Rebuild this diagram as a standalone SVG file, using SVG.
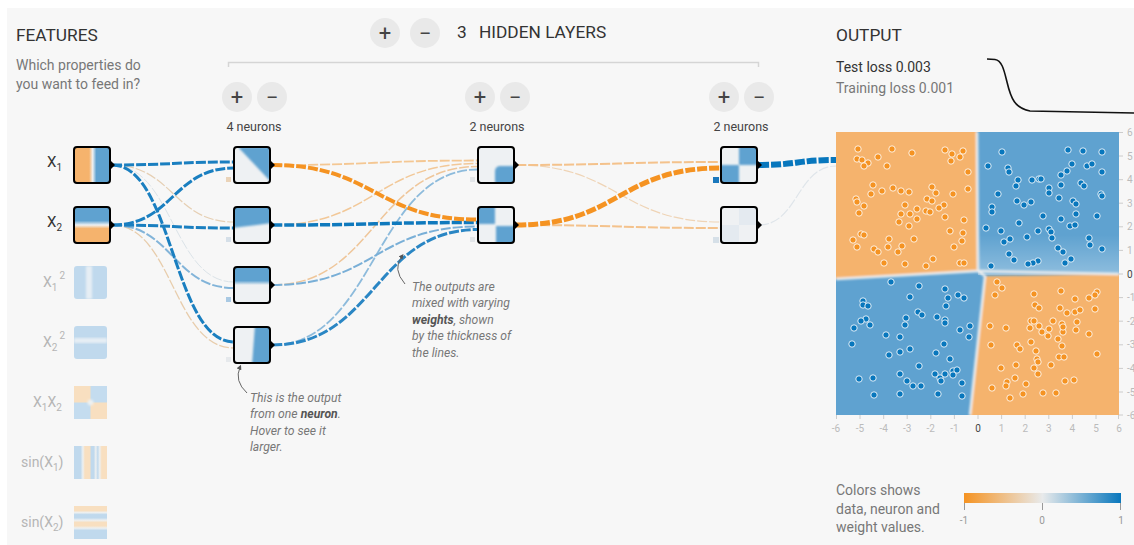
<svg xmlns="http://www.w3.org/2000/svg" width="1134" height="545" viewBox="0 0 1134 545">
<style>
text{font-family:Roboto,"Liberation Sans",sans-serif}
.h{font-size:17.3px;fill:#333}
.sub{font-size:14px;fill:#777}
.btn{fill:#e9e9e9}
.bt{font-size:22px;fill:#444;text-anchor:middle}
.nl{font-size:12.5px;fill:#444;text-anchor:middle}
.node{fill:none;stroke:#000;stroke-width:2}
.tri{fill:#000}
.lk{fill:none;stroke-dasharray:10 2}
.il{font-size:15px;fill:#333}
.gl{font-size:14px;fill:#b5b5b5}
.ann{font-size:12.2px;fill:#777;font-style:italic}
.ax{font-size:10px;fill:#bbb}
.ay{font-size:10px;fill:#bbb}
.tk{stroke:#ccc;stroke-width:1}
.pb{fill:#5fa2d0}
.po{fill:#f5b36d}
.lt{fill:#eef1f3}
</style>
<defs>
<circle id="o" r="3.2" fill="#f59322" stroke="#fff" stroke-opacity="0.85" stroke-width="1"/>
<circle id="b" r="3.2" fill="#0877bd" stroke="#fff" stroke-opacity="0.85" stroke-width="1"/>
<filter id="sb" x="-20%" y="-20%" width="140%" height="140%"><feGaussianBlur stdDeviation="0.8"/></filter>
<filter id="hb" x="-5%" y="-5%" width="110%" height="110%"><feGaussianBlur stdDeviation="1.3"/></filter>
<clipPath id="pc"><rect x="836" y="132" width="283" height="283"/></clipPath>
<linearGradient id="gx1" x1="0" y1="0" x2="1" y2="0"><stop offset="0" stop-color="#f5b36d"/><stop offset="0.42" stop-color="#f5b36d"/><stop offset="0.52" stop-color="#eef1f3"/><stop offset="0.62" stop-color="#5fa2d0"/><stop offset="1" stop-color="#5fa2d0"/></linearGradient>
<linearGradient id="gx2" x1="0" y1="0" x2="0" y2="1"><stop offset="0" stop-color="#5fa2d0"/><stop offset="0.38" stop-color="#5fa2d0"/><stop offset="0.5" stop-color="#eef1f3"/><stop offset="0.6" stop-color="#f5b36d"/><stop offset="1" stop-color="#f5b36d"/></linearGradient>
<linearGradient id="gh3" x1="0" y1="0" x2="0" y2="1"><stop offset="0" stop-color="#5fa2d0"/><stop offset="0.38" stop-color="#5fa2d0"/><stop offset="0.5" stop-color="#eef1f3"/><stop offset="1" stop-color="#eef1f3"/></linearGradient>
<linearGradient id="gs1" x1="0" y1="0" x2="1" y2="0"><stop offset="0" stop-color="#c0d9ed"/><stop offset="0.2" stop-color="#c0d9ed"/><stop offset="0.27" stop-color="#edf0f1"/><stop offset="0.33" stop-color="#f8dfc0"/><stop offset="0.47" stop-color="#f8dfc0"/><stop offset="0.53" stop-color="#c0d9ed"/><stop offset="0.6" stop-color="#c0d9ed"/><stop offset="0.66" stop-color="#edf0f1"/><stop offset="0.72" stop-color="#c0d9ed"/><stop offset="0.78" stop-color="#edf0f1"/><stop offset="0.84" stop-color="#f8dfc0"/><stop offset="1" stop-color="#f8dfc0"/></linearGradient>
<linearGradient id="gs2" x1="0" y1="0" x2="0" y2="1"><stop offset="0" stop-color="#f8dfc0"/><stop offset="0.14" stop-color="#f8dfc0"/><stop offset="0.2" stop-color="#edf0f1"/><stop offset="0.26" stop-color="#c0d9ed"/><stop offset="0.36" stop-color="#c0d9ed"/><stop offset="0.43" stop-color="#edf0f1"/><stop offset="0.5" stop-color="#f8dfc0"/><stop offset="0.6" stop-color="#f8dfc0"/><stop offset="0.67" stop-color="#edf0f1"/><stop offset="0.74" stop-color="#c0d9ed"/><stop offset="1" stop-color="#c0d9ed"/></linearGradient>
<linearGradient id="leg" x1="0" y1="0" x2="1" y2="0"><stop offset="0" stop-color="#f59322"/><stop offset="0.5" stop-color="#e8eaeb"/><stop offset="1" stop-color="#0877bd"/></linearGradient>
<linearGradient id="tr" x1="0" y1="0" x2="0" y2="1"><stop offset="0" stop-color="#fff" stop-opacity="0"/><stop offset="1" stop-color="#fff" stop-opacity="0.3"/></linearGradient>
<marker id="ar" viewBox="0 0 10 10" refX="5" refY="5" markerWidth="5" markerHeight="5" orient="auto-start-reverse"><path d="M0,0 L10,5 L0,10 z" fill="#555"/></marker>
</defs>

<rect x="0" y="0" width="1134" height="545" fill="#fff"/>
<rect x="7" y="8" width="1127" height="537" fill="#f7f7f7"/>

<!-- headers -->
<g id="features-header">
<text x="16" y="41" class="h">FEATURES</text>
<text x="16" y="70" class="sub">Which properties do</text>
<text x="16" y="89" class="sub">you want to feed in?</text>
</g>
<g id="layers-header">
<circle cx="385" cy="33" r="15" class="btn"/><text x="385" y="41" class="bt">+</text>
<circle cx="425" cy="33" r="15" class="btn"/><text x="425" y="41" class="bt">−</text>
<text x="457" y="38" class="h">3</text>
<text x="479" y="38" class="h">HIDDEN LAYERS</text>
<path d="M228.5,67 V62.5 H758.5 V67" fill="none" stroke="#d5d5d5" stroke-width="1.5"/>
<circle cx="237" cy="97" r="15" class="btn"/><text x="237" y="105" class="bt">+</text>
<circle cx="272" cy="97" r="15" class="btn"/><text x="272" y="105" class="bt">−</text>
<text x="254" y="131" class="nl">4 neurons</text>
<circle cx="480" cy="97" r="15" class="btn"/><text x="480" y="105" class="bt">+</text>
<circle cx="515" cy="97" r="15" class="btn"/><text x="515" y="105" class="bt">−</text>
<text x="497" y="131" class="nl">2 neurons</text>
<circle cx="724" cy="97" r="15" class="btn"/><text x="724" y="105" class="bt">+</text>
<circle cx="759" cy="97" r="15" class="btn"/><text x="759" y="105" class="bt">−</text>
<text x="741" y="131" class="nl">2 neurons</text>
</g>
<g id="output-header">
<text x="836" y="41" class="h">OUTPUT</text>
<text x="836" y="72" style="font-size:14px;fill:#333">Test loss 0.003</text>
<text x="836" y="93" class="sub">Training loss 0.001</text>
<path d="M987,59 L995,59.5 C1002,60.5 1004,70 1007,82 C1011,99 1015,108 1030,111 L1134,113" fill="none" stroke="#111" stroke-width="1.6"/>
</g>

<!-- connectors -->
<g id="connectors">
<path class="lk" d="M112,165 C173,165 173,282 234,282" stroke="#dbe3e8" stroke-width="1"/>
<path class="lk" d="M112,165 C173,165 173,222 234,222" stroke="#e6cfb3" stroke-width="1.2"/>
<path class="lk" d="M112,225 C173,225 173,348 234,348" stroke="#e8cdac" stroke-width="1.3"/>
<path class="lk" d="M112,225 C173,225 173,288 234,288" stroke="#82b4d9" stroke-width="2"/>
<path class="lk" d="M112,165 C173,165 173,162 234,162" stroke="#1a7fc0" stroke-width="3"/>
<path class="lk" d="M112,225 C173,225 173,168 234,168" stroke="#1a7fc0" stroke-width="3"/>
<path class="lk" d="M112,225 C173,225 173,228 234,228" stroke="#1a7fc0" stroke-width="3"/>
<path class="lk" d="M112,165 C173,165 173,342 234,342" stroke="#1a7fc0" stroke-width="3"/>

<path class="lk" d="M272,165 C375,165 375,160.5 478,160.5" stroke="#f4c793" stroke-width="1.8"/>
<path class="lk" d="M272,225 C375,225 375,163.5 478,163.5" stroke="#f2c898" stroke-width="1.5"/>
<path class="lk" d="M272,285 C375,285 375,166.5 478,166.5" stroke="#efc69a" stroke-width="1.5"/>
<path class="lk" d="M272,345 C375,345 375,169.5 478,169.5" stroke="#8dbbdc" stroke-width="1.8"/>
<path class="lk" d="M272,285 C375,285 375,226.5 478,226.5" stroke="#79afd7" stroke-width="2"/>
<path class="lk" d="M272,345 C375,345 375,229.5 478,229.5" stroke="#2a86c4" stroke-width="3"/>
<path class="lk" d="M272,225 C375,225 375,222.5 478,222.5" stroke="#0f79bd" stroke-width="3.5"/>
<path class="lk" d="M272,165 C375,165 375,219.5 478,219.5" stroke="#f59322" stroke-width="4"/>

<path class="lk" d="M516,165 C618.5,165 618.5,222 721,222" stroke="#efd4b6" stroke-width="1.2"/>
<path class="lk" d="M516,165 C618.5,165 618.5,162 721,162" stroke="#f4c28c" stroke-width="2"/>
<path class="lk" d="M516,225 C618.5,225 618.5,228 721,228" stroke="#f4c28c" stroke-width="2"/>
<path class="lk" d="M516,225 C618.5,225 618.5,168 721,168" stroke="#f59322" stroke-width="5"/>

<path class="lk" d="M759,225 C797.5,225 797.5,166 836,166" stroke="#dfe5ea" stroke-width="1.2"/>
<path class="lk" d="M759,165 C797.5,165 797.5,160 836,160" stroke="#0877bd" stroke-width="6"/>
</g>

<!-- input nodes -->
<g id="in-x1">
<text x="47" y="167" class="il">X<tspan font-size="10" dy="4">1</tspan></text>
<svg x="74" y="147" width="36" height="36"><rect width="36" height="36" fill="url(#gx1)"/></svg>
<rect x="74" y="147" width="36" height="36" rx="3" class="node"/>
<polygon points="110,160 115,165 110,170" class="tri"/>
</g>
<g id="in-x2">
<text x="47" y="227" class="il">X<tspan font-size="10" dy="4">2</tspan></text>
<svg x="74" y="207" width="36" height="36"><rect width="36" height="36" fill="url(#gx2)"/></svg>
<rect x="74" y="207" width="36" height="36" rx="3" class="node"/>
<polygon points="110,220 115,225 110,230" class="tri"/>
</g>
<g id="in-x1sq">
<text x="43" y="287" class="gl">X<tspan font-size="10" dy="4">1</tspan><tspan font-size="10" dx="2" dy="-12">2</tspan></text>
<svg x="74" y="266" width="33" height="33"><rect width="33" height="33" rx="3" fill="#c0d9ed"/><rect x="12" y="0" width="6" height="33" fill="#e6eef4" filter="url(#sb)"/></svg>
</g>
<g id="in-x2sq">
<text x="43" y="347" class="gl">X<tspan font-size="10" dy="4">2</tspan><tspan font-size="10" dx="2" dy="-12">2</tspan></text>
<svg x="74" y="326" width="33" height="33"><rect width="33" height="33" rx="3" fill="#c0d9ed"/><rect x="0" y="12" width="33" height="5" fill="#e6eef4" filter="url(#sb)"/></svg>
</g>
<g id="in-x1x2">
<text x="33" y="407" class="gl">X<tspan font-size="10" dy="4">1</tspan><tspan dy="-4">X</tspan><tspan font-size="10" dy="4">2</tspan></text>
<svg x="74" y="386" width="33" height="33"><rect width="33" height="33" fill="#c4dcef"/><rect width="16.5" height="16.5" fill="#f8dfc0"/><rect x="16.5" y="16.5" width="16.5" height="16.5" fill="#f8dfc0"/><circle cx="16.5" cy="16.5" r="3" fill="#edf0f1" filter="url(#sb)"/></svg>
</g>
<g id="in-sinx1">
<text x="21" y="467" class="gl">sin(X<tspan font-size="10" dy="4">1</tspan><tspan dy="-4">)</tspan></text>
<svg x="74" y="446" width="33" height="33"><rect width="33" height="33" fill="url(#gs1)"/></svg>
</g>
<g id="in-sinx2">
<text x="21" y="527" class="gl">sin(X<tspan font-size="10" dy="4">2</tspan><tspan dy="-4">)</tspan></text>
<svg x="74" y="506" width="33" height="33"><rect width="33" height="33" fill="url(#gs2)"/></svg>
</g>

<!-- hidden layer 1 -->
<g id="h1">
<rect x="226" y="177" width="5" height="5" fill="#ead3b8"/>
<svg x="234" y="147" width="36" height="36"><rect width="36" height="36" class="lt"/><polygon points="4,0 36,0 36,34" class="pb" filter="url(#sb)"/></svg>
<rect x="234" y="147" width="36" height="36" rx="3" class="node"/>
<polygon points="270,160 275,165 270,170" class="tri"/>
</g>
<g id="h2">
<rect x="226" y="237" width="5" height="5" fill="#d5dfe8"/>
<svg x="234" y="207" width="36" height="36"><rect width="36" height="36" class="lt"/><polygon points="-2,-2 38,-2 38,16 -2,21" class="pb" filter="url(#sb)"/></svg>
<rect x="234" y="207" width="36" height="36" rx="3" class="node"/>
<polygon points="270,220 275,225 270,230" class="tri"/>
</g>
<g id="h3">
<rect x="226" y="297" width="5" height="5" fill="#a9c9e3"/>
<svg x="234" y="267" width="36" height="36"><rect width="36" height="36" fill="url(#gh3)"/></svg>
<rect x="234" y="267" width="36" height="36" rx="3" class="node"/>
<polygon points="270,280 275,285 270,290" class="tri"/>
</g>
<g id="h4">
<rect x="226" y="357" width="5" height="5" fill="#e6e9ec"/>
<svg x="234" y="327" width="36" height="36"><rect width="36" height="36" class="lt"/><polygon points="21,-2 38,-2 38,38 18,38" class="pb" filter="url(#sb)"/></svg>
<rect x="234" y="327" width="36" height="36" rx="3" class="node"/>
<polygon points="270,340 275,345 270,350" class="tri"/>
</g>

<!-- hidden layer 2 -->
<g id="g1">
<rect x="470" y="177" width="5" height="5" fill="#e3e6e9"/>
<svg x="478" y="147" width="36" height="36"><rect width="36" height="36" class="lt"/><rect x="17" y="19" width="22" height="20" rx="5" class="pb" filter="url(#sb)"/></svg>
<rect x="478" y="147" width="36" height="36" rx="3" class="node"/>
<polygon points="514,160 519,165 514,170" class="tri"/>
</g>
<g id="g2">
<rect x="470" y="237" width="5" height="5" fill="#e3e6e9"/>
<svg x="478" y="207" width="36" height="36"><rect width="36" height="36" class="lt"/><rect x="-2" y="-2" width="19" height="19" class="pb" filter="url(#sb)"/><rect x="18" y="19" width="20" height="19" class="pb" filter="url(#sb)"/></svg>
<rect x="478" y="207" width="36" height="36" rx="3" class="node"/>
<polygon points="514,220 519,225 514,230" class="tri"/>
</g>

<!-- hidden layer 3 -->
<g id="k1">
<rect x="713" y="177" width="6" height="6" fill="#1a78bd"/>
<svg x="721" y="147" width="36" height="36"><rect width="36" height="36" class="lt"/><rect x="18" y="-2" width="20" height="20" class="pb" filter="url(#sb)"/><rect x="-2" y="18" width="20" height="20" class="pb" filter="url(#sb)"/></svg>
<rect x="721" y="147" width="36" height="36" rx="3" class="node"/>
<polygon points="757,160 762,165 757,170" class="tri"/>
</g>
<g id="k2">
<rect x="713" y="237" width="6" height="6" fill="#d6e0e8"/>
<svg x="721" y="207" width="36" height="36"><rect width="36" height="36" fill="#eff1f3"/><rect x="18" y="0" width="18" height="18" fill="#e4eaf0"/><rect x="0" y="18" width="18" height="18" fill="#e4eaf0"/></svg>
<rect x="721" y="207" width="36" height="36" rx="3" class="node"/>
<polygon points="757,220 762,225 757,230" class="tri"/>
</g>

<!-- annotations -->
<g id="note-neuron">
<path d="M247,393 Q234,381 240,367" fill="none" stroke="#666" stroke-width="1" marker-end="url(#ar)"/>
<text x="250" y="402" class="ann">This is the output</text>
<text x="250" y="418" class="ann">from one <tspan font-weight="bold" fill="#555">neuron</tspan>.</text>
<text x="250" y="435" class="ann">Hover to see it</text>
<text x="250" y="451" class="ann">larger.</text>
</g>
<g id="note-weights">
<path d="M405,284 Q392,269 402,256" fill="none" stroke="#666" stroke-width="1" marker-end="url(#ar)"/>
<text x="412" y="291" class="ann">The outputs are</text>
<text x="412" y="307" class="ann">mixed with varying</text>
<text x="412" y="324" class="ann"><tspan font-weight="bold" fill="#555">weights</tspan>, shown</text>
<text x="412" y="340" class="ann">by the thickness of</text>
<text x="412" y="357" class="ann">the lines.</text>
</g>

<!-- output plot -->
<g id="output-plot">
<g clip-path="url(#pc)">
<rect x="836" y="132" width="283" height="283" class="pb"/>
<rect x="978" y="235" width="141" height="40" fill="url(#tr)"/>
<g filter="url(#hb)">
<polygon points="826,122 977,122 978,271 826,279" class="po"/>
<polygon points="985,276 1129,274 1129,425 969,425" class="po"/>
<polyline points="836,279 978,271 977,132" fill="none" stroke="#eceeef" stroke-width="2.5"/>
<polyline points="978,271 1119,274" fill="none" stroke="#eceeef" stroke-width="2.5"/>
<polyline points="978,271 985,276 970,415" fill="none" stroke="#eceeef" stroke-width="2.5"/>
</g>
</g>
<g id="points-orange">
<use href="#o" x="858" y="149"/><use href="#o" x="857" y="159"/><use href="#o" x="862" y="160"/><use href="#o" x="868" y="163"/><use href="#o" x="864" y="166"/><use href="#o" x="878" y="157"/><use href="#o" x="887" y="166"/><use href="#o" x="892" y="149"/><use href="#o" x="912" y="153"/><use href="#o" x="945" y="150"/><use href="#o" x="952" y="154"/><use href="#o" x="963" y="151"/><use href="#o" x="960" y="157"/><use href="#o" x="951" y="161"/><use href="#o" x="968" y="172"/><use href="#o" x="873" y="185"/><use href="#o" x="871" y="194"/><use href="#o" x="882" y="191"/><use href="#o" x="893" y="188"/><use href="#o" x="901" y="191"/><use href="#o" x="909" y="192"/><use href="#o" x="932" y="187"/><use href="#o" x="936" y="193"/><use href="#o" x="953" y="194"/><use href="#o" x="968" y="189"/><use href="#o" x="856" y="199"/><use href="#o" x="857" y="202"/><use href="#o" x="864" y="206"/><use href="#o" x="859" y="213"/><use href="#o" x="927" y="199"/><use href="#o" x="932" y="201"/><use href="#o" x="944" y="205"/><use href="#o" x="939" y="208"/><use href="#o" x="905" y="205"/><use href="#o" x="901" y="214"/><use href="#o" x="910" y="214"/><use href="#o" x="917" y="209"/><use href="#o" x="926" y="211"/><use href="#o" x="930" y="212"/><use href="#o" x="917" y="219"/><use href="#o" x="899" y="222"/><use href="#o" x="909" y="226"/><use href="#o" x="945" y="217"/><use href="#o" x="964" y="220"/><use href="#o" x="861" y="234"/><use href="#o" x="864" y="235"/><use href="#o" x="853" y="240"/><use href="#o" x="857" y="247"/><use href="#o" x="889" y="239"/><use href="#o" x="888" y="247"/><use href="#o" x="902" y="246"/><use href="#o" x="874" y="249"/><use href="#o" x="878" y="252"/><use href="#o" x="898" y="252"/><use href="#o" x="914" y="239"/><use href="#o" x="950" y="231"/><use href="#o" x="963" y="233"/><use href="#o" x="962" y="241"/><use href="#o" x="954" y="247"/><use href="#o" x="933" y="259"/><use href="#o" x="926" y="266"/><use href="#o" x="905" y="264"/><use href="#o" x="884" y="263"/><use href="#o" x="960" y="263"/><use href="#o" x="964" y="263"/>
<use href="#o" x="997" y="282"/><use href="#o" x="1002" y="288"/><use href="#o" x="995" y="295"/><use href="#o" x="1034" y="294"/><use href="#o" x="1061" y="291"/><use href="#o" x="1097" y="292"/><use href="#o" x="1095" y="295"/><use href="#o" x="1089" y="298"/><use href="#o" x="1075" y="299"/><use href="#o" x="1035" y="305"/><use href="#o" x="1039" y="308"/><use href="#o" x="1060" y="308"/><use href="#o" x="1067" y="313"/><use href="#o" x="1075" y="312"/><use href="#o" x="1080" y="310"/><use href="#o" x="1095" y="309"/><use href="#o" x="1053" y="321"/><use href="#o" x="1062" y="324"/><use href="#o" x="1077" y="322"/><use href="#o" x="1031" y="321"/><use href="#o" x="1034" y="321"/><use href="#o" x="1039" y="326"/><use href="#o" x="1030" y="328"/><use href="#o" x="1042" y="332"/><use href="#o" x="1049" y="329"/><use href="#o" x="1048" y="336"/><use href="#o" x="1063" y="332"/><use href="#o" x="1063" y="327"/><use href="#o" x="1076" y="330"/><use href="#o" x="1089" y="334"/><use href="#o" x="1058" y="339"/><use href="#o" x="1062" y="346"/><use href="#o" x="990" y="326"/><use href="#o" x="1006" y="328"/><use href="#o" x="991" y="345"/><use href="#o" x="1017" y="345"/><use href="#o" x="1020" y="349"/><use href="#o" x="1031" y="342"/><use href="#o" x="1036" y="351"/><use href="#o" x="1037" y="359"/><use href="#o" x="1038" y="362"/><use href="#o" x="1059" y="357"/><use href="#o" x="1064" y="357"/><use href="#o" x="1097" y="354"/><use href="#o" x="1051" y="365"/><use href="#o" x="1016" y="365"/><use href="#o" x="1001" y="368"/><use href="#o" x="1034" y="368"/><use href="#o" x="1038" y="374"/><use href="#o" x="1015" y="378"/><use href="#o" x="1007" y="382"/><use href="#o" x="1006" y="386"/><use href="#o" x="1026" y="384"/><use href="#o" x="992" y="388"/><use href="#o" x="1010" y="398"/><use href="#o" x="1023" y="394"/><use href="#o" x="1043" y="393"/><use href="#o" x="1056" y="393"/><use href="#o" x="1065" y="381"/><use href="#o" x="1074" y="380"/>
</g>
<g id="points-blue">
<use href="#b" x="1002" y="152"/><use href="#b" x="988" y="166"/><use href="#b" x="1008" y="168"/><use href="#b" x="1009" y="172"/><use href="#b" x="1018" y="180"/><use href="#b" x="1016" y="186"/><use href="#b" x="1032" y="180"/><use href="#b" x="1039" y="179"/><use href="#b" x="1041" y="179"/><use href="#b" x="1049" y="188"/><use href="#b" x="1049" y="193"/><use href="#b" x="1061" y="185"/><use href="#b" x="1061" y="175"/><use href="#b" x="1067" y="171"/><use href="#b" x="1072" y="164"/><use href="#b" x="1068" y="150"/><use href="#b" x="1083" y="151"/><use href="#b" x="1102" y="152"/><use href="#b" x="1087" y="166"/><use href="#b" x="1092" y="164"/><use href="#b" x="1102" y="172"/><use href="#b" x="1081" y="183"/><use href="#b" x="1084" y="186"/><use href="#b" x="1101" y="194"/><use href="#b" x="1102" y="196"/><use href="#b" x="998" y="194"/><use href="#b" x="992" y="207"/><use href="#b" x="992" y="212"/><use href="#b" x="1017" y="201"/><use href="#b" x="1024" y="205"/><use href="#b" x="1031" y="202"/><use href="#b" x="1043" y="216"/><use href="#b" x="1059" y="198"/><use href="#b" x="1073" y="201"/><use href="#b" x="1076" y="204"/><use href="#b" x="1076" y="214"/><use href="#b" x="1097" y="216"/><use href="#b" x="986" y="228"/><use href="#b" x="1001" y="231"/><use href="#b" x="1010" y="239"/><use href="#b" x="1004" y="242"/><use href="#b" x="1019" y="223"/><use href="#b" x="1038" y="231"/><use href="#b" x="1027" y="237"/><use href="#b" x="1049" y="229"/><use href="#b" x="1051" y="232"/><use href="#b" x="1052" y="238"/><use href="#b" x="1061" y="219"/><use href="#b" x="1070" y="226"/><use href="#b" x="1075" y="225"/><use href="#b" x="1089" y="238"/><use href="#b" x="1090" y="245"/><use href="#b" x="1102" y="249"/><use href="#b" x="1058" y="248"/><use href="#b" x="1063" y="252"/><use href="#b" x="1071" y="259"/><use href="#b" x="1065" y="263"/><use href="#b" x="1038" y="261"/><use href="#b" x="1033" y="263"/><use href="#b" x="1028" y="264"/><use href="#b" x="1014" y="260"/><use href="#b" x="1009" y="254"/><use href="#b" x="991" y="266"/>
<use href="#b" x="891" y="282"/><use href="#b" x="919" y="286"/><use href="#b" x="945" y="289"/><use href="#b" x="958" y="295"/><use href="#b" x="964" y="298"/><use href="#b" x="948" y="298"/><use href="#b" x="910" y="297"/><use href="#b" x="863" y="301"/><use href="#b" x="863" y="305"/><use href="#b" x="868" y="306"/><use href="#b" x="946" y="306"/><use href="#b" x="918" y="312"/><use href="#b" x="922" y="315"/><use href="#b" x="937" y="317"/><use href="#b" x="945" y="320"/><use href="#b" x="945" y="323"/><use href="#b" x="866" y="319"/><use href="#b" x="861" y="321"/><use href="#b" x="854" y="328"/><use href="#b" x="870" y="325"/><use href="#b" x="906" y="318"/><use href="#b" x="905" y="325"/><use href="#b" x="886" y="335"/><use href="#b" x="900" y="337"/><use href="#b" x="960" y="330"/><use href="#b" x="970" y="326"/><use href="#b" x="969" y="337"/><use href="#b" x="852" y="344"/><use href="#b" x="889" y="355"/><use href="#b" x="900" y="352"/><use href="#b" x="910" y="349"/><use href="#b" x="936" y="353"/><use href="#b" x="944" y="344"/><use href="#b" x="950" y="359"/><use href="#b" x="919" y="366"/><use href="#b" x="900" y="374"/><use href="#b" x="907" y="381"/><use href="#b" x="913" y="386"/><use href="#b" x="921" y="386"/><use href="#b" x="935" y="374"/><use href="#b" x="940" y="378"/><use href="#b" x="941" y="381"/><use href="#b" x="945" y="374"/><use href="#b" x="953" y="371"/><use href="#b" x="957" y="370"/><use href="#b" x="953" y="375"/><use href="#b" x="962" y="383"/><use href="#b" x="962" y="396"/><use href="#b" x="938" y="394"/><use href="#b" x="900" y="394"/><use href="#b" x="874" y="395"/><use href="#b" x="873" y="378"/><use href="#b" x="859" y="379"/>
</g>
<g id="axes">
<path class="tk" d="M1119,132.5h4M1119,156h4M1119,179.7h4M1119,203.2h4M1119,226.8h4M1119,250.4h4M1119,274h4M1119,297.6h4M1119,321.2h4M1119,344.8h4M1119,368.4h4M1119,392h4M1119,415h4"/>
<path class="tk" d="M836.5,415v4M860,415v4M883.7,415v4M907.2,415v4M930.8,415v4M954.4,415v4M978,415v4M1001.6,415v4M1025.2,415v4M1048.8,415v4M1072.4,415v4M1096,415v4M1118.5,415v4"/>
<text class="ay" x="1127" y="136">6</text><text class="ay" x="1127" y="160">5</text><text class="ay" x="1127" y="183">4</text><text class="ay" x="1127" y="207">3</text><text class="ay" x="1127" y="230">2</text><text class="ay" x="1127" y="254">1</text><text class="ay" x="1127" y="278" style="fill:#444">0</text><text class="ay" x="1127" y="301">-1</text><text class="ay" x="1127" y="325">-2</text><text class="ay" x="1127" y="348">-3</text><text class="ay" x="1127" y="372">-4</text><text class="ay" x="1127" y="396">-5</text><text class="ay" x="1127" y="419">-6</text>
<g text-anchor="middle">
<text class="ax" x="836" y="432">-6</text><text class="ax" x="860" y="432">-5</text><text class="ax" x="883.7" y="432">-4</text><text class="ax" x="907.2" y="432">-3</text><text class="ax" x="930.8" y="432">-2</text><text class="ax" x="954.4" y="432">-1</text><text class="ax" x="978" y="432" style="fill:#444">0</text><text class="ax" x="1001.6" y="432">1</text><text class="ax" x="1025.2" y="432">2</text><text class="ax" x="1048.8" y="432">3</text><text class="ax" x="1072.4" y="432">4</text><text class="ax" x="1096" y="432">5</text><text class="ax" x="1119" y="432">6</text>
</g>
</g>
</g>

<!-- legend -->
<g id="legend">
<text x="836" y="495" class="sub">Colors shows</text>
<text x="836" y="514" class="sub">data, neuron and</text>
<text x="836" y="532" class="sub">weight values.</text>
<rect x="964" y="493" width="157" height="10" fill="url(#leg)"/>
<path d="M964.5,503v7M1042.5,503v7M1120.5,503v7" stroke="#999" stroke-width="1"/>
<g text-anchor="middle">
<text class="ax" x="964" y="524" style="fill:#999">-1</text>
<text class="ax" x="1042" y="524" style="fill:#999">0</text>
<text class="ax" x="1121" y="524" style="fill:#999">1</text>
</g>
</g>
</svg>
